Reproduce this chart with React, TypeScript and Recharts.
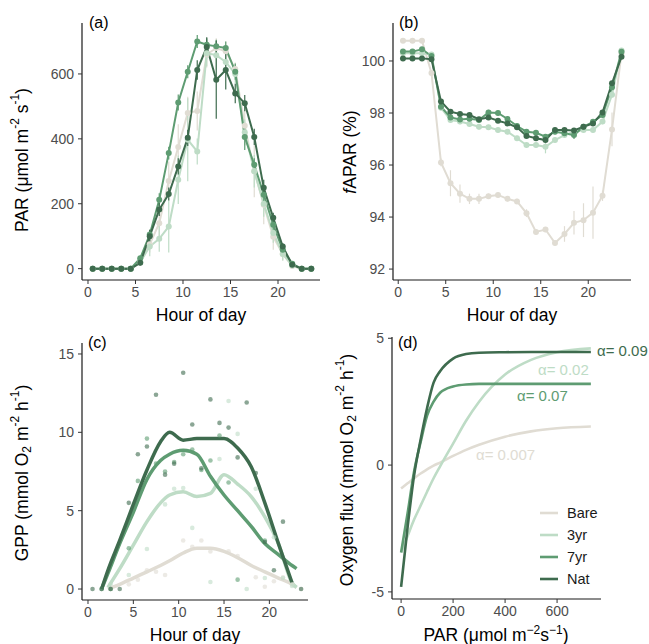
import React from 'react'
import {
  ComposedChart, LineChart, Line, Scatter, XAxis, YAxis, ErrorBar,
} from 'recharts'

const FONT = '"Liberation Sans", Arial, sans-serif'

const C = {
  bare: '#E0DCD3',
  yr3:  '#BEDCC6',
  yr7:  '#5E9C72',
  nat:  '#3E6B4E',
}

// (a) + (b): hourly means
const HOURS = [0.5,1.5,2.5,3.5,4.5,5.5,6.5,7.5,8.5,9.5,10.5,11.5,12.5,13.5,14.5,15.5,16.5,17.5,18.5,19.5,20.5,21.5,22.5,23.5]

const PAR_BARE = [0,0,0,0,0,20,75,140,270,375,480,486,660,680,670,615,440,300,197,98,45,8,0,0]
const PAR_YR3  = [0,0,0,0,0,20,68,92,130,274,397,361,664,658,637,600,420,300,200,110,45,10,0,0]
const PAR_YR7  = [0,0,0,0,0,32,105,212,356,512,607,700,690,685,680,607,406,320,228,135,58,15,0,0]
const PAR_NAT  = [0,0,0,0,0,18,100,182,230,315,403,612,683,582,612,540,510,406,249,157,68,12,0,0]

const PAR_BARE_SE = [0,0,0,0,0,10,25,40,60,70,50,60,40,30,30,20,60,80,60,40,20,5,0,0]
const PAR_YR3_SE  = [0,0,0,0,0,10,30,40,80,75,128,40,40,45,30,30,40,50,40,30,20,5,0,0]
const PAR_YR7_SE  = [0,0,0,0,0,8,15,20,20,25,20,20,20,20,20,25,40,20,20,15,10,5,0,0]
const PAR_NAT_SE  = [0,0,0,0,0,8,20,20,20,25,25,30,30,120,60,30,25,25,25,15,10,5,0,0]

const FAPAR_BARE = [100.78,100.78,100.78,99.54,96.1,95.3,94.9,94.7,94.7,94.8,94.85,94.7,94.6,94.15,93.43,93.52,93.0,93.35,93.78,93.88,94.17,94.82,97.37,100.3]
const FAPAR_YR3  = [100.3,100.3,100.3,100.25,98.2,97.73,97.67,97.58,97.47,97.45,97.35,97.28,97.03,96.77,96.77,96.7,96.96,97.15,97.28,97.35,97.35,97.67,98.7,100.4]
const FAPAR_YR7  = [100.36,100.36,100.45,100.19,98.24,97.83,97.75,97.78,97.73,98.02,98.0,97.77,97.5,97.28,97.24,97.09,97.28,97.22,97.15,97.47,97.66,97.92,98.99,100.35]
const FAPAR_NAT  = [100.1,100.1,100.1,100.07,98.44,98.05,97.96,97.92,97.76,97.83,97.7,97.6,97.45,97.12,97.03,96.96,97.35,97.35,97.33,97.47,97.6,98.02,99.14,100.16]

const FAPAR_BARE_SE = [0.02,0.02,0.02,0.1,0.15,0.5,0.35,0.2,0.2,0.1,0.1,0.1,0.1,0.15,0.1,0.1,0.1,0.3,0.45,0.65,1.0,0.2,0.65,0.1]
const FAPAR_YR3_SE  = [0.05,0.05,0.05,0.05,0.1,0.1,0.1,0.1,0.1,0.1,0.1,0.1,0.1,0.1,0.1,0.25,0.1,0.1,0.1,0.1,0.1,0.1,0.1,0.05]
const FAPAR_YR7_SE  = [0.05,0.05,0.05,0.05,0.1,0.1,0.1,0.1,0.1,0.1,0.1,0.1,0.1,0.1,0.1,0.1,0.1,0.1,0.15,0.1,0.1,0.1,0.1,0.05]
const FAPAR_NAT_SE  = [0.05,0.05,0.05,0.05,0.08,0.08,0.08,0.08,0.08,0.08,0.08,0.08,0.08,0.08,0.08,0.08,0.08,0.08,0.08,0.08,0.08,0.08,0.08,0.05]

// (c): GPP smooth fits + raw points
const FIT_HOURS = [1.5,2.2,3.5,5,6.5,8,9,10.5,12,13.5,15,16.5,18,19.5,21,22.5,23,23.5]
const GPP_BARE_FIT = [null,0,0.3,0.7,1.1,1.5,1.8,2.3,2.6,2.6,2.4,2.0,1.5,1.1,0.7,0.3,0.1,null]
const GPP_YR3_FIT  = [null,0.1,1.3,2.8,4.3,5.5,6.0,6.2,5.9,6.1,7.3,6.7,5.9,4.6,2.9,0.4,0.1,null]
const GPP_YR7_FIT  = [0,1.0,2.9,4.9,7.0,8.2,8.6,8.85,8.6,7.2,6.0,5.0,4.0,2.9,2.2,1.5,1.3,null]
const GPP_NAT_FIT  = [0,1.2,3.1,5.4,7.6,9.4,10.0,9.5,9.6,9.6,9.6,9.0,7.8,5.5,2.9,0.4,null,null]

const GPP_BARE_PTS = [[2.5,0],[4.5,0.3],[5.5,0.6],[6.5,1.2],[7.5,1.1],[8.5,0.9],[10.5,3.1],[11.5,2.7],[12.5,3.1],[13.5,2.4],[15.5,2.4],[16.5,2.1],[18.5,0.75],[19.5,0.15],[20.5,0.5],[21.5,0.75],[22.5,0.3],[23.5,0]]
const GPP_YR3_PTS  = [[2.5,0.3],[4.5,0.9],[6.5,2.55],[8.5,5.4],[9.5,6.4],[10.5,6.45],[11.5,3.9],[13.5,0.45],[14.5,8.3],[15.5,12.0],[16.5,9.9],[17.5,0],[18.5,6.4],[19.5,0.7],[20.5,3.3],[21.5,0.7],[22.5,0.2]]
const GPP_YR7_PTS  = [[1.5,0],[2.5,0],[4.5,2.6],[5.5,6.9],[6.5,9.6],[7.5,8.0],[8.5,7.5],[9.5,8.1],[10.5,8.6],[11.5,8.9],[12.5,7.6],[13.5,8.2],[14.5,9.8],[15.5,6.8],[16.5,0.6],[19.5,3.1]]
const GPP_NAT_PTS  = [[0.5,0],[1.5,0],[2.5,0],[3.5,0],[4.5,5.5],[5.5,8.6],[6.5,9.1],[7.5,12.4],[8.5,7.3],[9.5,8.0],[10.5,13.8],[11.5,10.5],[12.5,7.7],[13.5,12.1],[14.5,10.6],[15.5,10.3],[16.5,8.4],[17.5,11.9],[18.5,7.4],[19.5,3.0],[20.5,1.2],[21.5,4.3],[23.5,0]]

// (d): light response curves
const PAR_GRID = [0,25,50,75,100,125,150,200,250,300,400,500,600,730]
const OX_BARE = [-0.92,-0.72,-0.52,-0.33,-0.17,-0.02,0.1,0.36,0.6,0.8,1.12,1.33,1.45,1.52]
const OX_YR3  = [-3.45,-2.8,-2.15,-1.6,-1.05,-0.52,-0.05,0.85,1.75,2.5,3.57,4.15,4.45,4.6]
const OX_YR7  = [-3.45,-1.9,-0.25,0.9,1.95,2.5,2.85,3.1,3.18,3.2,3.2,3.2,3.2,3.2]
const OX_NAT  = [-4.8,-2.45,-0.4,1.0,2.25,3.25,3.7,4.2,4.38,4.43,4.45,4.46,4.46,4.46]

const SERIES = ['bare', 'yr3', 'yr7', 'nat'] as const
const LEGEND = ['Bare', '3yr', '7yr', 'Nat']

const parRows = HOURS.map((h, i) => ({
  hour: h,
  bare: PAR_BARE[i], bareSe: PAR_BARE_SE[i],
  yr3: PAR_YR3[i], yr3Se: PAR_YR3_SE[i],
  yr7: PAR_YR7[i], yr7Se: PAR_YR7_SE[i],
  nat: PAR_NAT[i], natSe: PAR_NAT_SE[i],
}))

const faparRows = HOURS.map((h, i) => ({
  hour: h,
  bare: FAPAR_BARE[i], bareSe: FAPAR_BARE_SE[i],
  yr3: FAPAR_YR3[i], yr3Se: FAPAR_YR3_SE[i],
  yr7: FAPAR_YR7[i], yr7Se: FAPAR_YR7_SE[i],
  nat: FAPAR_NAT[i], natSe: FAPAR_NAT_SE[i],
}))

const fitRows = FIT_HOURS.map((h, i) => ({
  hour: h,
  bare: GPP_BARE_FIT[i], yr3: GPP_YR3_FIT[i], yr7: GPP_YR7_FIT[i], nat: GPP_NAT_FIT[i],
}))

const toPts = (arr: number[][]) => arr.map(([hour, gpp]) => ({ hour, gpp }))
const gppPts = {
  bare: toPts(GPP_BARE_PTS), yr3: toPts(GPP_YR3_PTS),
  yr7: toPts(GPP_YR7_PTS), nat: toPts(GPP_NAT_PTS),
}

const oxRows = PAR_GRID.map((p, i) => ({
  par: p, bare: OX_BARE[i], yr3: OX_YR3[i], yr7: OX_YR7[i], nat: OX_NAT[i],
}))

const tick = { fontSize: 14, fill: '#4d4d4d', fontFamily: FONT }
const axisLine = { stroke: '#1a1a1a', strokeWidth: 1.2 }
const tickLine = { stroke: '#333', strokeWidth: 1 }

function HourlyPanel({ data, yDomain, yTicks, left }: any) {
  return (
    <ComposedChart width={left ? 325 : 324} height={320} data={data}
      margin={{ top: 23, right: left ? 5 : 18, left: left ? 32 : 18, bottom: 0 }}>
      <XAxis type="number" dataKey="hour" domain={left ? [-0.63, 24.42] : [-0.55, 24.5]}
        ticks={[0, 5, 10, 15, 20]} allowDataOverflow height={40}
        tick={tick} axisLine={axisLine} tickLine={tickLine} tickSize={4} tickMargin={3} />
      <YAxis type="number" domain={yDomain} ticks={yTicks} allowDataOverflow width={50}
        tick={tick} axisLine={axisLine} tickLine={tickLine} tickSize={4} tickMargin={4} />
      {SERIES.map((s) => (
        <Line key={s} dataKey={s} type="linear" stroke={C[s]} strokeWidth={2}
          dot={{ r: 3, fill: C[s], stroke: C[s], strokeWidth: 0 }}
          isAnimationActive={false}>
          <ErrorBar dataKey={`${s}Se`} width={0} stroke={C[s]} strokeWidth={1.2} />
        </Line>
      ))}
    </ComposedChart>
  )
}

function GppPanel() {
  return (
    <ComposedChart width={325} height={324} data={fitRows}
      margin={{ top: 23, right: 17, left: 32, bottom: 0 }}>
      <XAxis type="number" dataKey="hour" domain={[-0.66, 24.26]} ticks={[0, 5, 10, 15, 20]}
        allowDataOverflow height={44}
        tick={tick} axisLine={axisLine} tickLine={tickLine} tickSize={4} tickMargin={3} />
      <YAxis type="number" dataKey="gpp" domain={[-0.7, 15.7]} ticks={[0, 5, 10, 15]}
        allowDataOverflow width={50}
        tick={tick} axisLine={axisLine} tickLine={tickLine} tickSize={4} tickMargin={4} />
      {SERIES.map((s) => (
        <Scatter key={`p-${s}`} data={gppPts[s]} fill={C[s]} fillOpacity={0.55}
          shape={(p: any) => <circle cx={p.cx} cy={p.cy} r={2.3} fill={C[s]} fillOpacity={0.6} />}
          isAnimationActive={false} />
      ))}
      {SERIES.map((s) => (
        <Line key={s} dataKey={s} type="monotone" stroke={C[s]} strokeWidth={3.5}
          dot={false} isAnimationActive={false} />
      ))}
    </ComposedChart>
  )
}

function LightPanel() {
  return (
    <LineChart width={324} height={324} data={oxRows}
      margin={{ top: 17, right: 48, left: 17, bottom: 0 }}>
      <XAxis type="number" dataKey="par" domain={[-35, 769]} ticks={[0, 200, 400, 600]}
        allowDataOverflow height={45}
        tick={tick} axisLine={axisLine} tickLine={tickLine} tickSize={4} tickMargin={3} />
      <YAxis type="number" domain={[-5.28, 5.05]} ticks={[-5, 0, 5]} allowDataOverflow width={50}
        tick={tick} axisLine={axisLine} tickLine={tickLine} tickSize={4} tickMargin={4} />
      {SERIES.map((s) => (
        <Line key={s} dataKey={s} type="monotone" stroke={C[s]} strokeWidth={2.6}
          dot={false} isAnimationActive={false} />
      ))}
    </LineChart>
  )
}

const T = 17.5
const S = 12

function Overlay() {
  return (
    <svg width={649} height={644} style={{ position: 'absolute', left: 0, top: 0, pointerEvents: 'none' }}
      fontFamily={FONT}>
      {/* panel tags */}
      <text x={89} y={28} fontSize={16}>(a)</text>
      <text x={399} y={28} fontSize={16}>(b)</text>
      <text x={88} y={348} fontSize={16}>(c)</text>
      <text x={398} y={348} fontSize={16}>(d)</text>

      {/* y titles */}
      <text transform="translate(22,160) rotate(-90)" textAnchor="middle" dominantBaseline="central" fontSize={T}>
        PAR (μmol m<tspan dy={-7} fontSize={S}>-2</tspan><tspan dy={7}> s</tspan><tspan dy={-7} fontSize={S}>-1</tspan><tspan dy={7}>)</tspan>
      </text>
      <text transform="translate(350,152) rotate(-90)" textAnchor="middle" dominantBaseline="central" fontSize={T}>
        <tspan fontStyle="italic">f</tspan>APAR (%)
      </text>
      <text transform="translate(22,473) rotate(-90)" textAnchor="middle" dominantBaseline="central" fontSize={T}>
        GPP (mmol O<tspan dy={5} fontSize={S}>2</tspan><tspan dy={-5}> m</tspan><tspan dy={-7} fontSize={S}>-2</tspan><tspan dy={7}> h</tspan><tspan dy={-7} fontSize={S}>-1</tspan><tspan dy={7}>)</tspan>
      </text>
      <text transform="translate(347,470) rotate(-90)" textAnchor="middle" dominantBaseline="central" fontSize={T}>
        Oxygen flux (mmol O<tspan dy={5} fontSize={S}>2</tspan><tspan dy={-5}> m</tspan><tspan dy={-7} fontSize={S}>-2</tspan><tspan dy={7}> h</tspan><tspan dy={-7} fontSize={S}>-1</tspan><tspan dy={7}>)</tspan>
      </text>

      {/* x titles */}
      <text x={201} y={321} textAnchor="middle" fontSize={T}>Hour of day</text>
      <text x={512} y={321} textAnchor="middle" fontSize={T}>Hour of day</text>
      <text x={195} y={641} textAnchor="middle" fontSize={T}>Hour of day</text>
      <text x={496} y={641} textAnchor="middle" fontSize={T}>
        PAR (μmol m<tspan dy={-7} fontSize={S}>−2</tspan><tspan dy={7}>s</tspan><tspan dy={-7} fontSize={S}>−1</tspan><tspan dy={7}>)</tspan>
      </text>

      {/* alpha labels */}
      <text x={597} y={356} fontSize={15} fill={C.nat}>α= 0.09</text>
      <text x={538} y={375} fontSize={15} fill={C.yr3}>α= 0.02</text>
      <text x={517} y={401} fontSize={15} fill={C.yr7}>α= 0.07</text>
      <text x={476} y={460} fontSize={15} fill={C.bare}>α= 0.007</text>

      {/* legend */}
      {SERIES.map((s, i) => (
        <g key={s}>
          <line x1={540} x2={558} y1={513 + i * 22} y2={513 + i * 22} stroke={C[s]} strokeWidth={2.6} />
          <text x={567} y={518 + i * 22} fontSize={14.5} fill="#1a1a1a">{LEGEND[i]}</text>
        </g>
      ))}
    </svg>
  )
}

export default function App() {
  return (
    <div style={{ position: 'absolute', left: 0, top: 0, width: 649, height: 644, background: '#fff', fontFamily: FONT }}>
      <div style={{ position: 'absolute', left: 0, top: 0 }}>
        <HourlyPanel data={parRows} yDomain={[-35, 757]} yTicks={[0, 200, 400, 600]} left />
      </div>
      <div style={{ position: 'absolute', left: 325, top: 0 }}>
        <HourlyPanel data={faparRows} yDomain={[91.58, 101.46]} yTicks={[92, 94, 96, 98, 100]} />
      </div>
      <div style={{ position: 'absolute', left: 0, top: 320 }}>
        <GppPanel />
      </div>
      <div style={{ position: 'absolute', left: 325, top: 320 }}>
        <LightPanel />
      </div>
      <Overlay />
    </div>
  )
}
